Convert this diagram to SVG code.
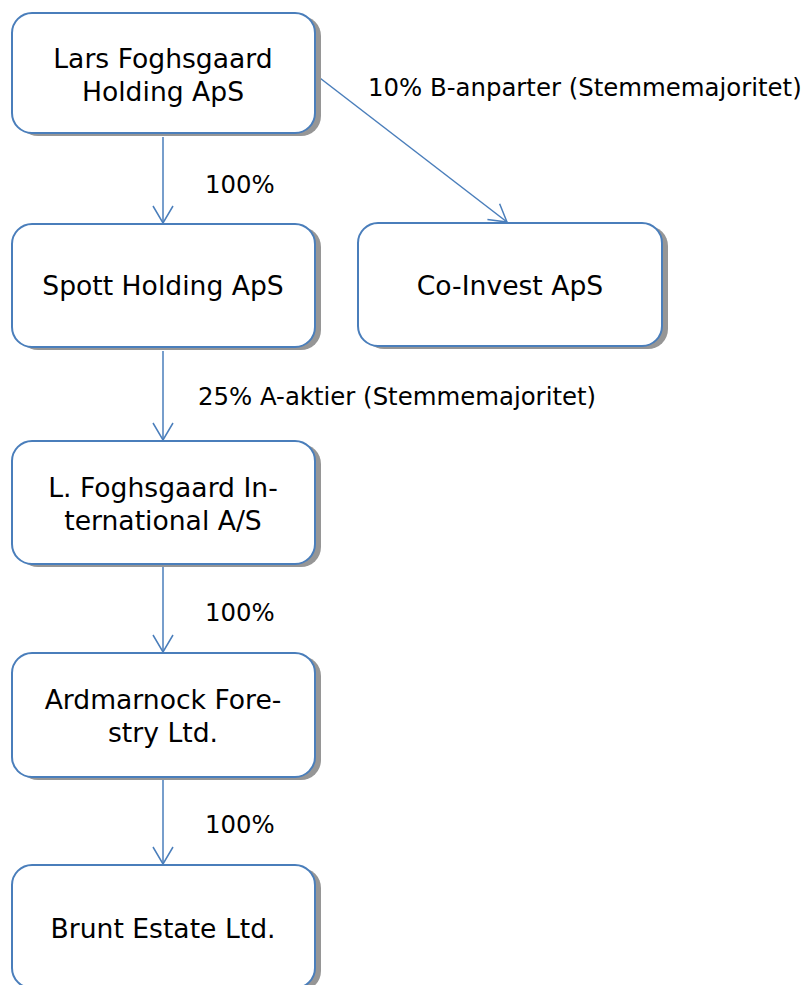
<svg xmlns="http://www.w3.org/2000/svg" width="806" height="985" viewBox="0 0 806 985">
  <defs>
    <style>
      .shadow { fill: #969696; }
      .box { fill: #ffffff; stroke: #4a7ebb; stroke-width: 2; }
      .node-text { font-family: "DejaVu Sans", Verdana, sans-serif; font-size: 26.6px; fill: #000000; text-anchor: middle; }
      .label { font-family: "DejaVu Sans", Verdana, sans-serif; font-size: 24.4px; fill: #000000; }
      .conn { fill: none; stroke: #4a7ebb; stroke-width: 1.5; marker-end: url(#arrow); }
    </style>
    <marker id="arrow" markerUnits="userSpaceOnUse" markerWidth="22" markerHeight="24" refX="18" refY="12" orient="auto">
      <path d="M1,2 L18,12 L1,22" fill="none" stroke="#4a7ebb" stroke-width="1.5"/>
    </marker>
  </defs>

  <g id="connectors">
    <line class="conn" x1="163" y1="137" x2="163" y2="223"/>
    <line class="conn" x1="316" y1="75" x2="507" y2="222"/>
    <line class="conn" x1="163" y1="351" x2="163" y2="440"/>
    <line class="conn" x1="163" y1="567" x2="163" y2="652"/>
    <line class="conn" x1="163" y1="780" x2="163" y2="864"/>
  </g>

  <g id="labels">
    <text class="label" x="205" y="193">100%</text>
    <text class="label" x="368" y="96">10% B-anparter (Stemmemajoritet)</text>
    <text class="label" x="198" y="405">25% A-aktier (Stemmemajoritet)</text>
    <text class="label" x="205" y="621">100%</text>
    <text class="label" x="205" y="833">100%</text>
  </g>

  <g id="node-lars">
    <rect class="shadow" x="18" y="16" width="303" height="120" rx="20"/>
    <rect class="box" x="12" y="13" width="303" height="120" rx="20"/>
    <text class="node-text" x="163" y="68">Lars Foghsgaard</text>
    <text class="node-text" x="163" y="101">Holding ApS</text>
  </g>

  <g id="node-spott">
    <rect class="shadow" x="18" y="227" width="303" height="123" rx="20"/>
    <rect class="box" x="12" y="224" width="303" height="123" rx="20"/>
    <text class="node-text" x="163" y="295">Spott Holding ApS</text>
  </g>

  <g id="node-coinvest">
    <rect class="shadow" x="364" y="226" width="304" height="123" rx="20"/>
    <rect class="box" x="358" y="223" width="304" height="123" rx="20"/>
    <text class="node-text" x="510" y="295">Co-Invest ApS</text>
  </g>

  <g id="node-lfi">
    <rect class="shadow" x="18" y="444" width="303" height="123" rx="20"/>
    <rect class="box" x="12" y="441" width="303" height="123" rx="20"/>
    <text class="node-text" x="163" y="497">L. Foghsgaard In-</text>
    <text class="node-text" x="163" y="530">ternational A/S</text>
  </g>

  <g id="node-ardmarnock">
    <rect class="shadow" x="18" y="656" width="303" height="124" rx="20"/>
    <rect class="box" x="12" y="653" width="303" height="124" rx="20"/>
    <text class="node-text" x="163" y="709">Ardmarnock Fore-</text>
    <text class="node-text" x="163" y="742">stry Ltd.</text>
  </g>

  <g id="node-brunt">
    <rect class="shadow" x="18" y="868" width="303" height="123" rx="20"/>
    <rect class="box" x="12" y="865" width="303" height="123" rx="20"/>
    <text class="node-text" x="163" y="938">Brunt Estate Ltd.</text>
  </g>
</svg>
